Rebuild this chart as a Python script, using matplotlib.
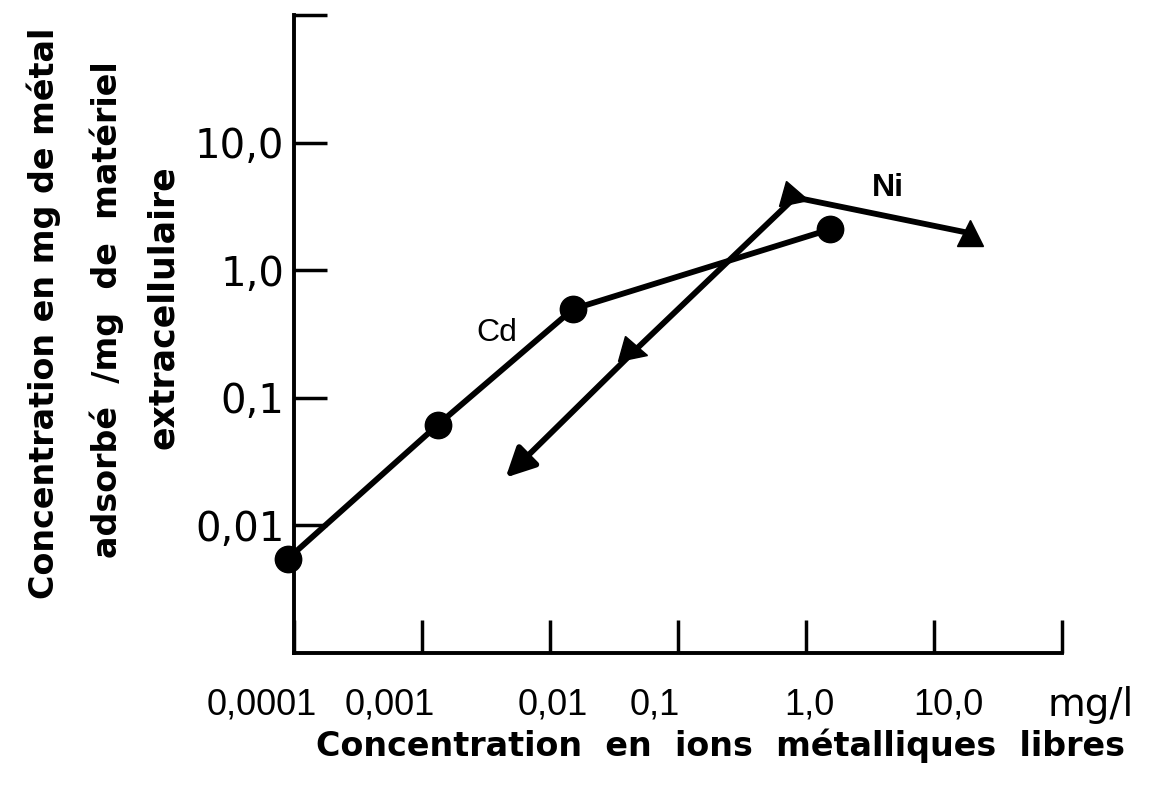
import matplotlib.pyplot as plt
from matplotlib.markers import MarkerStyle
from matplotlib.transforms import Affine2D

# Cd : cercles
cd_x = [0.00009, 0.00133, 0.0151, 1.54]
cd_y = [0.0055, 0.0615, 0.495, 2.09]

# Ni : triangles, le trajet finit par une fleche
ni_x = [19.1, 0.82, 0.045]
ni_y = [1.95, 3.72, 0.23]
ni_fin_x = 0.0045
ni_fin_y = 0.0237

# axes
x_decades = [1e-4, 1e-3, 1e-2, 1e-1, 1, 10, 100]
y_decades = [0.01, 0.1, 1, 10, 100]
y_labels = ['0,01', '0,1', '1,0', '10,0', '']
x_labels = ['0,0001', '0,001', '0,01', '0,1', '1,0', '10,0']
x_label_pos = [5.6e-5, 5.6e-4, 0.0105, 0.066, 1.07, 12.9]

fig = plt.figure(figsize=(11.54, 7.97), dpi=100)
ax = fig.add_axes([0.2548, 0.1807, 0.6655, 0.8005])
ax.set_xscale('log')
ax.set_yscale('log')
ax.set_xlim(1e-4, 1e2)
ax.set_ylim(1e-3, 1e2)

for s in ['top', 'right']:
    ax.spines[s].set_visible(False)
for s in ['left', 'bottom']:
    ax.spines[s].set_linewidth(2.8)

ax.minorticks_off()
ax.set_xticks(x_decades)
ax.set_xticklabels([])
ax.set_yticks(y_decades)
ax.set_yticklabels(y_labels, fontfamily='DejaVu Sans', fontsize=29)
ax.tick_params(axis='x', direction='in', length=24, width=2.5)
ax.tick_params(axis='y', direction='in', length=24, width=2.5, pad=7)

# etiquettes de l'axe x (decalees comme sur l'original)
for xp, lab in zip(x_label_pos, x_labels):
    ax.text(xp, -0.0815, lab, transform=ax.get_xaxis_transform(),
            ha='center', va='center', fontsize=26,
            family=['Liberation Sans Narrow', 'Liberation Sans'])
ax.text(166, -0.0815, 'mg/l', transform=ax.get_xaxis_transform(),
        ha='center', va='center', fontsize=28, family='DejaVu Sans')

# Cd
ax.plot(cd_x, cd_y, color='black', lw=4.2, marker='o', markersize=19,
        clip_on=False, zorder=3)

# Ni
tri = MarkerStyle('>', transform=Affine2D().rotate_deg(-15))
ax.plot(ni_x, ni_y, color='black', lw=4.2, zorder=3)
ax.plot(ni_x[0], ni_y[0], marker='^', markersize=19, color='black', zorder=4)
ax.plot(ni_x[1:], ni_y[1:], linestyle='none', marker=tri, markersize=19,
        color='black', zorder=4)
ax.annotate('', xy=(ni_fin_x, ni_fin_y), xytext=(ni_x[-1], ni_y[-1]),
            arrowprops=dict(arrowstyle='-|>', lw=4.2, color='black',
                            mutation_scale=44, shrinkA=0, shrinkB=0))

ax.text(0.00385, 0.322, 'Cd', fontsize=23, ha='center', va='center',
        family='Liberation Sans')
ax.text(4.37, 4.37, 'Ni', fontsize=23, ha='center', va='center',
        family='Liberation Sans', fontweight='bold')

# titres des axes
fig.text(44 / 1154, 1 - 313 / 797, 'Concentration en mg de métal',
         rotation=90, ha='center', va='center', fontsize=24, fontweight='bold',
         family='DejaVu Sans')
fig.text(107 / 1154, 1 - 310 / 797, 'adsorbé  /mg  de  matériel',
         rotation=90, ha='center', va='center', fontsize=24, fontweight='bold',
         family='DejaVu Sans')
fig.text(163 / 1154, 1 - 307 / 797, 'extracellulaire',
         rotation=90, ha='center', va='center', fontsize=25, fontweight='bold',
         family='DejaVu Sans')
fig.text(720 / 1154, 1 - 746 / 797,
         'Concentration  en  ions  métalliques  libres',
         ha='center', va='center', fontsize=24, fontweight='bold',
         family='DejaVu Sans')

fig.savefig('out.png', dpi=100)
